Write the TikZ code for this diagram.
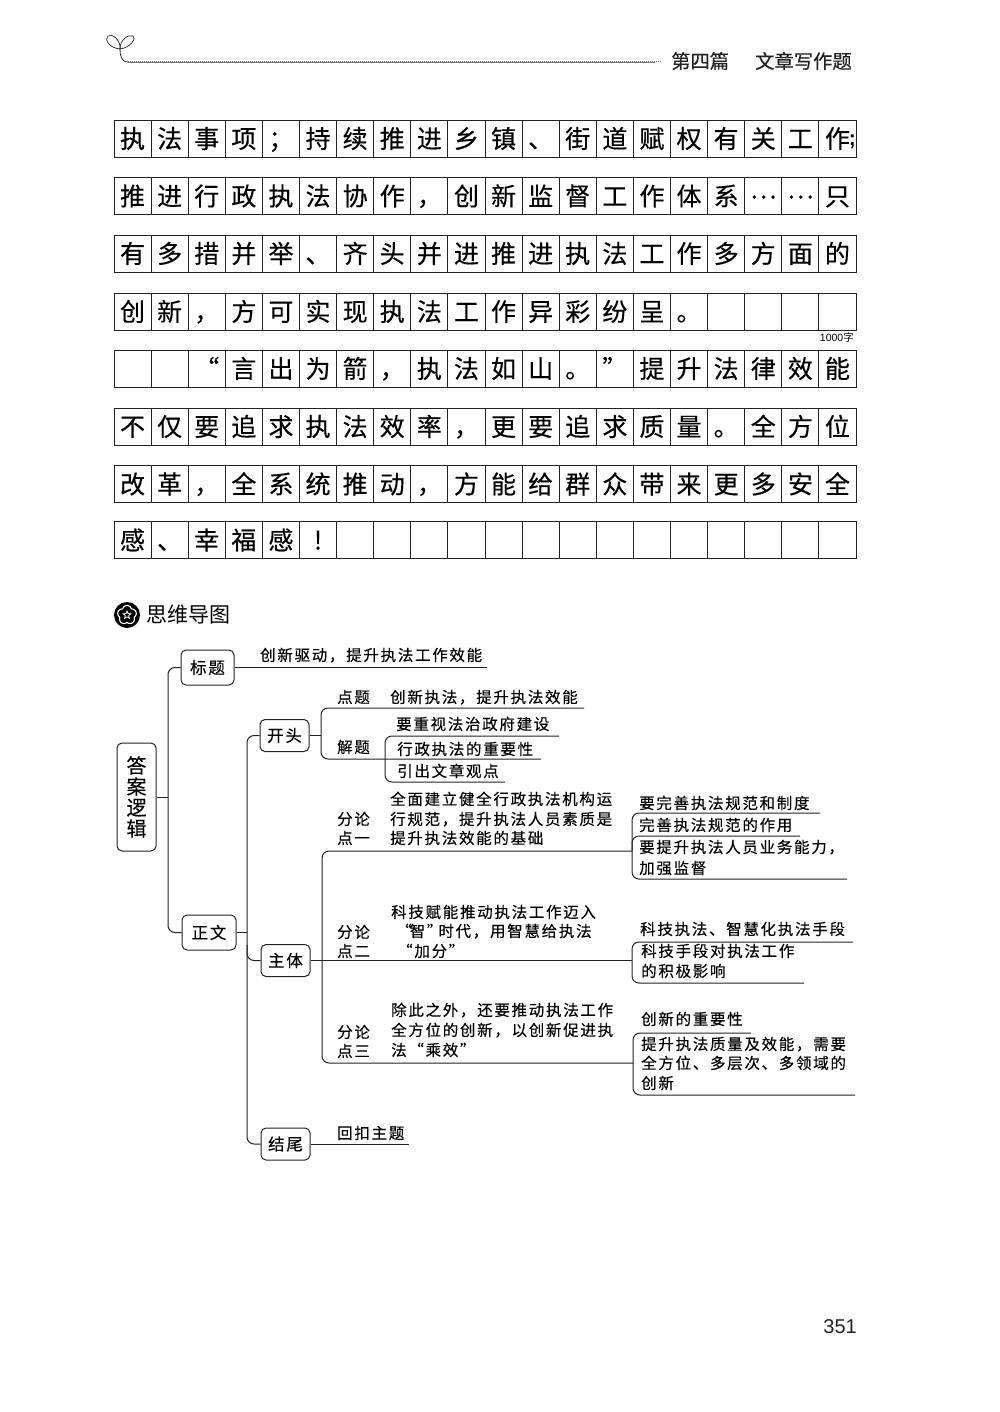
\documentclass[tikz,border=0pt]{standalone}
\usepackage{fontspec}
\usetikzlibrary{shapes.geometric}
\setmainfont{Liberation Sans}
\newfontfamily\cjk{Noto Sans CJK SC}
\newfontfamily\cjkgrid[FakeBold=0.35]{Noto Sans CJK SC}
\newfontfamily\cjksp[LetterSpace=11,FakeBold=0.2]{Noto Sans CJK SC}
\newfontfamily\cjkmed[FakeBold=0.4]{Noto Sans CJK SC}
\newcommand\cma{^^^^ff0c}
\newcommand\scn{^^^^ff1b}
\newcommand\elp{\raisebox{7pt}{…}}
\definecolor{ink}{HTML}{222222}
\tikzset{
  cell/.style={draw=ink,line width=0.9pt,minimum width=37.1pt,minimum height=37pt,inner sep=0pt,text height=22pt,text depth=3pt,font=\cjkgrid\fontsize{25}{25}\selectfont,text=black},
  mmtxt/.style={anchor=west,inner sep=0pt,text height=13.6pt,text depth=1.9pt,font=\cjksp\fontsize{15.5}{17}\selectfont,text=black},
  mmbox/.style={draw=ink,line width=1pt,rounded corners=5pt,inner sep=0pt,font=\cjksp\fontsize{16.5}{18}\selectfont,text=black},
  conn/.style={draw=ink,line width=1pt,rounded corners=7pt},
  hdr/.style={anchor=west,inner sep=0pt,font=\cjkmed\fontsize{19.3}{21}\selectfont,text=ink}
}
\begin{document}
\begin{tikzpicture}[x=1pt,y=-1pt]
\useasboundingbox (0,0) rectangle (1000,1412);
\fill[white] (0,0) rectangle (1000,1412);
% header
\draw[ink,line width=0.7pt,line cap=round] (120,49) .. controls (109,48) and (104,39) .. (108,36) .. controls (112,33) and (121,40) .. (120,49);
\draw[ink,line width=0.7pt,line cap=round] (120,49) .. controls (120,40) and (128,34) .. (133,36) .. controls (137,38) and (130,48) .. (120,49);
\draw[ink,line width=0.8pt] (120,49) .. controls (120,55) and (121,62) .. (128,62);
\draw[ink!70,line width=1pt,densely dotted] (128,62) -- (662,62);
\draw[ink!60,line width=0.4pt] (128,62) -- (655,62);
\node[hdr] (h1) at (671,61) {第四篇};
\node[hdr] (h2) at (755,61) {文章写作题};
% grid
\foreach \r/\ry/\txt in {
 1/138.5/{执,法,事,项,\scn,持,续,推,进,乡,镇,、,街,道,赋,权,有,关,工,作},
 2/196/{推,进,行,政,执,法,协,作,\cma,创,新,监,督,工,作,体,系,\elp,\elp,只},
 3/253.5/{有,多,措,并,举,、,齐,头,并,进,推,进,执,法,工,作,多,方,面,的},
 4/311.5/{创,新,\cma,方,可,实,现,执,法,工,作,异,彩,纷,呈,。,~,~,~,~},
 5/368.5/{~,~,“,言,出,为,箭,\cma,执,法,如,山,。,”,提,升,法,律,效,能},
 6/426.5/{不,仅,要,追,求,执,法,效,率,\cma,更,要,追,求,质,量,。,全,方,位},
 7/484/{改,革,\cma,全,系,统,推,动,\cma,方,能,给,群,众,带,来,更,多,安,全},
 8/540/{感,、,幸,福,感,!,~,~,~,~,~,~,~,~,~,~,~,~,~,~}}{
  \foreach \c [count=\i] in \txt {
    \node[cell] (c\r-\i) at ({114+37.1*(\i-.5)},\ry) {\c};
  }
}
\node[anchor=east,inner sep=0pt,font=\fontsize{21}{21}\bfseries\selectfont,xshift=-0.5pt,yshift=-3pt] (semi) at (c1-20.east) {;};
\node[anchor=east,inner sep=0pt,font=\fontsize{10.5}{11}\selectfont] (cnt) at (854,337) {1000\cjk 字};
% section heading
\fill[black] (127,615) circle[radius=13];
\draw[white,line width=1.1pt,fill=black] plot[domain=0:360,samples=90,smooth cycle] ({127+(7.5+2*abs(cos(2.5*\x+45)))*cos(\x)},{615+(7.5+2*abs(cos(2.5*\x+45)))*sin(\x)});
\node[star,star points=5,star point ratio=2.2,draw=white,line width=0.8pt,fill=black,minimum size=8pt,inner sep=0pt] (icon) at (127,615) {};
\node[anchor=west,inner sep=0pt,font=\cjk\fontsize{21}{23}\selectfont] (sec) at (146,615) {思维导图};
% boxes
\node[mmbox,minimum width=39pt,minimum height=108pt,align=center,font=\cjkgrid\fontsize{20}{21}\selectfont] (da) at (136.5,797) {答\\案\\逻\\辑};
\node[mmbox,minimum width=53pt,minimum height=35pt] (bt) at (207.5,667.5) {标题};
\node[mmbox,minimum width=49pt,minimum height=32pt] (kt) at (284.5,735.5) {开头};
\node[mmbox,minimum width=54pt,minimum height=35pt] (zw) at (209,932.5) {正文};
\node[mmbox,minimum width=49pt,minimum height=32pt] (zt) at (285.5,960.5) {主体};
\node[mmbox,minimum width=49pt,minimum height=32pt] (jw) at (285.5,1144) {结尾};
% junctions
\coordinate (j1) at (168,797);
\coordinate (j2) at (247,932.5);
\coordinate (j3) at (247,945);
\coordinate (j4) at (321,735.5);
\coordinate (j5) at (385,759);
\coordinate (j6) at (322,960.5);
\coordinate (g1) at (632,851);
\coordinate (g2) at (632,960.5);
\coordinate (g3) at (633,1063);
\coordinate (e0) at (487,667.5);
\coordinate (e1) at (584,708);
\coordinate (e2) at (541,759);
\coordinate (e3) at (559,736);
\coordinate (e4) at (505,782);
\coordinate (e5) at (820,813);
\coordinate (e6) at (800,836);
\coordinate (e7) at (847,879);
\coordinate (e8) at (853,942);
\coordinate (e9) at (804,983);
\coordinate (e10) at (751,1033);
\coordinate (e11) at (855,1095);
\coordinate (e12) at (409,1144);
% connectors
\draw[conn] (da.east) -- (j1);
\draw[conn] (bt.west) -| (j1) |- (zw.west);
\draw[conn] (bt.east) -- (e0);
\draw[conn] (zw.east) -- (j2);
\draw[conn] (kt.west) -| (j2) |- (jw.west);
\draw[conn] (j3) |- (zt.west);
\draw[conn] (kt.east) -- (j4);
\draw[conn] (e1) -| (j4) |- (e2);
\draw[conn] (e3) -| (j5) |- (e4);
\draw[conn] (zt.east) -- (g2);
\draw[conn] (g1) -| (j6) |- (g3);
\draw[conn] (e5) -| (g1) |- (e7);
\draw[conn] (e6) -| (g1);
\draw[conn] (e8) -| (g2) |- (e9);
\draw[conn] (e10) -| (g3) |- (e11);
\draw[conn] (jw.east) -- (e12);
% texts
\node[mmtxt] (a1) at (260,655) {创新驱动\cma 提升执法工作效能};
\node[mmtxt] (a2) at (337,697) {点题};
\node[mmtxt] (a3) at (390,697) {创新执法\cma 提升执法效能};
\node[mmtxt] (a4) at (396,724) {要重视法治政府建设};
\node[mmtxt] (a5) at (337,747) {解题};
\node[mmtxt] (a6) at (397,749) {行政执法的重要性};
\node[mmtxt] (a7) at (397,771) {引出文章观点};
\node[mmtxt] (b1) at (390,799) {全面建立健全行政执法机构运};
\node[mmtxt] (b2) at (390,819) {行规范\cma 提升执法人员素质是};
\node[mmtxt] (b3) at (390,838) {提升执法效能的基础};
\node[mmtxt] (b4) at (337,819) {分论};
\node[mmtxt] (b5) at (337,838) {点一};
\node[mmtxt] (c1) at (391,912) {科技赋能推动执法工作迈入};
\node[mmtxt] (c2) at (396,931) {“\hspace{-2pt}智”\hspace{-4pt}时代\cma 用智慧给执法};
\node[mmtxt] (c3) at (397,951) {“加分”};
\node[mmtxt] (c4) at (337,932) {分论};
\node[mmtxt] (c5) at (337,951) {点二};
\node[mmtxt] (d1) at (391,1010) {除此之外\cma 还要推动执法工作};
\node[mmtxt] (d2) at (391,1030) {全方位的创新\cma 以创新促进执};
\node[mmtxt] (d3) at (391,1050) {法“乘效”};
\node[mmtxt] (d4) at (337,1032) {分论};
\node[mmtxt] (d5) at (337,1051) {点三};
\node[mmtxt] (f1) at (337,1133) {回扣主题};
\node[mmtxt] (r1) at (639,803) {要完善执法规范和制度};
\node[mmtxt] (r2) at (639,825) {完善执法规范的作用};
\node[mmtxt] (r3) at (639,847) {要提升执法人员业务能力\cma};
\node[mmtxt] (r4) at (639,868) {加强监督};
\node[mmtxt] (r5) at (640,929) {科技执法、智慧化执法手段};
\node[mmtxt] (r6) at (641,951) {科技手段对执法工作};
\node[mmtxt] (r7) at (641,971) {的积极影响};
\node[mmtxt] (r8) at (641,1019) {创新的重要性};
\node[mmtxt] (r9) at (641,1044) {提升执法质量及效能\cma 需要};
\node[mmtxt] (r10) at (641,1063) {全方位、多层次、多领域的};
\node[mmtxt] (r11) at (641,1083) {创新};
% page number
\node[anchor=east,inner sep=0pt,font=\fontsize{20}{22}\selectfont,text=ink] (pg) at (857,1327) {351};
\end{tikzpicture}
\end{document}
